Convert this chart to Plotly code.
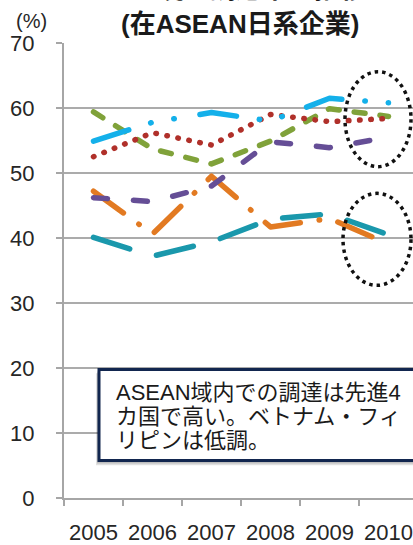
import plotly.graph_objects as go

years = ["2005", "2006", "2007", "2008", "2009", "2010"]
s_cyan = [54.9, 57.8, 59.3, 58.0, 61.5, 60.8]
s_red = [52.5, 56.2, 54.3, 59.0, 57.9, 58.4]
s_green = [59.4, 53.7, 51.4, 54.9, 59.9, 58.7]
s_purple = [46.2, 45.6, 48.0, 54.8, 53.9, 55.5]
s_orange = [47.2, 40.6, 49.5, 41.7, 43.0, 39.1]
s_teal = [40.1, 37.2, 39.4, 42.9, 43.7, 40.5]
y_ticks = [0, 10, 20, 30, 40, 50, 60, 70]

W, H = 413, 545
ML, MR, MT, MB = 64, 0, 43, 42
PW, PH = W - ML - MR, H - MT - MB

def px(x):
    return (x - ML) / PW

def py(y):
    return (H - MB - y) / PH

series = [
    (s_teal, "#1A98AC", "38px,28px"),
    (s_orange, "#E27A22", "37px,19px,0.5px,19px"),
    (s_purple, "#654E96", "14px,26px"),
    (s_green, "#80A23A", "11px,15px"),
    (s_red, "#B0302A", "0.5px,10.7px"),
    (s_cyan, "#14B0EA", "37px,23px,0.5px,23px,0.5px,26px"),
]

fig = go.Figure()
for vals, col, dash in series:
    fig.add_trace(go.Scatter(x=years, y=vals, mode="lines",
                             line=dict(color=col, width=5.5, dash=dash),
                             showlegend=False, hoverinfo="skip"))

font_main = "Liberation Sans, Arial, Noto Sans CJK JP"
axis_col = "#A6A6A6"

fig.update_layout(
    width=W, height=H,
    margin=dict(l=ML, r=MR, t=MT, b=MB),
    paper_bgcolor="white", plot_bgcolor="white",
    font=dict(family=font_main, color="#262626"),
    xaxis=dict(type="category", range=[-0.5, 5.415], showgrid=False,
               showline=True, linecolor=axis_col, linewidth=2,
               ticks="outside", tickson="boundaries", ticklen=6,
               tickcolor=axis_col, tickwidth=1.5,
               tickfont=dict(size=22, color="#262626"),
               ticklabelstandoff=14),
    yaxis=dict(range=[0, 70], tickvals=y_ticks, showgrid=True,
               gridcolor="#ABABAB", gridwidth=1.5, zeroline=False,
               showline=True, linecolor=axis_col, linewidth=2,
               ticks="outside", ticklen=6, tickcolor=axis_col, tickwidth=1.5,
               tickfont=dict(size=22, color="#262626"),
               ticklabelstandoff=17),
)

shapes = []
# shadow of text box
shapes.append(dict(type="rect", xref="paper", yref="paper",
                   x0=px(96), x1=px(430), y0=py(470), y1=py(377),
                   line=dict(width=0), fillcolor="rgba(0,0,0,0.12)", layer="above"))
shapes.append(dict(type="rect", xref="paper", yref="paper",
                   x0=px(97), x1=px(430), y0=py(468), y1=py(375),
                   line=dict(width=0), fillcolor="rgba(0,0,0,0.15)", layer="above"))
# text box
shapes.append(dict(type="rect", xref="paper", yref="paper",
                   x0=px(99), x1=px(430), y0=py(465), y1=py(373),
                   line=dict(color="#12264F", width=3), fillcolor="white", layer="above"))
# dotted ellipses
shapes.append(dict(type="circle", xref="paper", yref="paper",
                   x0=px(345), x1=px(411), y0=py(168), y1=py(72),
                   line=dict(color="#111111", width=3.5, dash="3.5px,4px"), layer="above"))
shapes.append(dict(type="circle", xref="paper", yref="paper",
                   x0=px(343), x1=px(411), y0=py(288), y1=py(195),
                   line=dict(color="#111111", width=3.5, dash="3.5px,4px"), layer="above"))
fig.update_layout(shapes=shapes)

ann = []
box_lines = ["ASEAN域内での調達は先進4", "カ国で高い。ベトナム・フィ", "リピンは低調。"]
for i, t in enumerate(box_lines):
    ann.append(dict(text=t, xref="paper", yref="paper", x=px(114), y=py(396 + 24.5 * i),
                    xanchor="left", yanchor="middle", showarrow=False,
                    font=dict(size=22, color="#1A1A1A", family=font_main)))
ann.append(dict(text="<b>(在ASEAN日系企業)</b>", xref="paper", yref="paper",
                x=px(240), y=py(24), xanchor="center", yanchor="middle", showarrow=False,
                font=dict(size=26, color="#1A1A1A", family=font_main)))
ann.append(dict(text="<b>現地調達率の推移</b>", xref="paper", yref="paper",
                x=px(368), y=py(-12), xanchor="right", yanchor="middle", showarrow=False,
                font=dict(size=26, color="#1A1A1A", family=font_main)))
ann.append(dict(text="(%)", xref="paper", yref="paper",
                x=px(31), y=py(21), xanchor="center", yanchor="middle", showarrow=False,
                font=dict(size=20, color="#262626", family=font_main)))
fig.update_layout(annotations=ann)

post = """
var st = document.createElement('style');
st.innerHTML = '.scatterlayer .js-line{stroke-linecap:round;stroke-linejoin:round;}';
document.head.appendChild(st);
"""
fig.write_html("out.html", post_script=post, config={"displayModeBar": False})
